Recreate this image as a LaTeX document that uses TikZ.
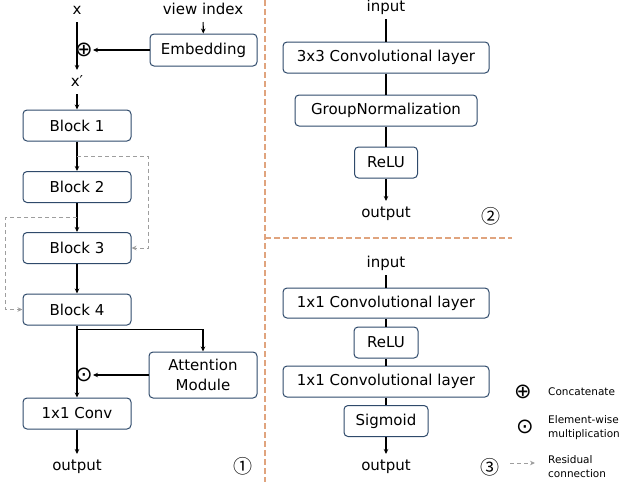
\documentclass[tikz,border=0pt]{standalone}
\usepackage{fontspec}
\setmainfont{DejaVu Sans}
\newfontfamily\cjkf{Noto Sans CJK SC}
\usetikzlibrary{arrows.meta,calc}
\definecolor{boxc}{HTML}{2F4A6B}
\definecolor{sepc}{HTML}{E0A47E}
\definecolor{resc}{HTML}{9E9E9E}
\tikzset{
 box/.style={draw=boxc, line width=1pt, rounded corners=4pt, fill=white, inner sep=0pt, font=\fontsize{15}{20}\selectfont, align=center},
 blk/.style={box, minimum width=108pt, minimum height=31pt},
 lbl/.style={inner sep=0pt, outer sep=5pt, text height=11pt, text depth=3pt, font=\fontsize{15}{18}\selectfont},
 arr/.style={line width=1.1pt, -{Stealth[length=5pt,width=4.5pt]}},
 ln/.style={line width=1.1pt},
 res/.style={draw=resc, line width=1pt, dash pattern=on 4pt off 3pt, -{Stealth[length=5pt,width=4.5pt]}},
 sym/.style={inner sep=0pt, font=\fontsize{21}{21}\selectfont},
 sepline/.style={draw=sepc, line width=1.4pt, dash pattern=on 6pt off 3pt},
 leg/.style={inner sep=0pt, anchor=west, align=left, font=\fontsize{10.5}{14}\selectfont},
 num/.style={inner sep=0pt, font=\cjkf\fontsize{19}{19}\selectfont},
}
\begin{document}
\begin{tikzpicture}[x=1pt,y=-1pt]
\useasboundingbox (0,0) rectangle (621,482);
% separators
\draw[sepline] (265,0) -- (265,482);
\draw[sepline] (265,238) -- (512,238);

% ---- panel 1 ----
\node[lbl] (x) at (77,10) {x};
\node[lbl] (vi) at (203,10) {view index};
\node[box, minimum width=107pt, minimum height=32pt] (emb) at (203.5,50) {Embedding};
\node[sym] (plus) at (84,50) {⊕};
\node[lbl] (xp) at (77,82) {x′};
\node[blk] (b1) at (77,125.5) {Block 1};
\node[blk] (b2) at (77,187) {Block 2};
\node[blk] (b3) at (77,248) {Block 3};
\node[blk] (b4) at (77,309.5) {Block 4};
\node[box, minimum width=108pt, minimum height=46pt] (att) at (203,375) {Attention\\Module};
\node[sym] (dot) at (84,375) {⊙};
\node[blk] (conv) at (77,413.5) {1x1 Conv};
\node[lbl] (out1) at (77,466) {output};
\node[num] (n1) at (243,466) {①};

\draw[arr] (x) -- (xp);
\draw[arr] (vi) -- (emb);
\draw[arr] (emb) -- (plus);
\draw[arr] (xp) -- (b1);
\draw[arr] (b1) -- (b2);
\draw[arr] (b2) -- (b3);
\draw[arr] (b3) -- (b4);
\coordinate (m1) at ($(b1.south)!0.5!(b2.north)$);
\coordinate (m2) at ($(b2.south)!0.5!(b3.north)$);
\draw[res] (m1) -| ($(b3.east)+(17,0)$) -- (b3.east);
\draw[res] (m2) -| ($(b4.west)+(-17,0)$) -- (b4.west);
\coordinate (split) at ($(b4.south)+(0,4)$);
\draw[arr] (split) -| (att.north);
\draw[arr] (b4) -- (conv);
\draw[arr] (att) -- (dot);
\draw[arr] (conv) -- (out1);

% ---- panel 2 ----
\node[lbl] (in2) at (386,7) {input};
\node[box, minimum width=206pt, minimum height=31pt] (c33) at (386,57.5) {3x3 Convolutional layer};
\node[box, minimum width=182pt, minimum height=31pt] (gn) at (386,110.5) {GroupNormalization};
\node[box, minimum width=63pt, minimum height=31pt] (relu2) at (386,162.5) {ReLU};
\node[lbl] (out2) at (386,213) {output};
\node[num] (n2) at (491,216) {②};
\draw[ln] (in2) -- (c33);
\draw[ln] (c33) -- (gn);
\draw[ln] (gn) -- (relu2);
\draw[arr] (relu2) -- (out2);

% ---- panel 3 ----
\node[lbl] (in3) at (386,263) {input};
\node[box, minimum width=206pt, minimum height=30pt] (ca) at (386,303) {1x1 Convolutional layer};
\node[box, minimum width=64pt, minimum height=31pt] (relu3) at (386,342.5) {ReLU};
\node[box, minimum width=206pt, minimum height=31pt] (cb) at (386,381.5) {1x1 Convolutional layer};
\node[box, minimum width=84pt, minimum height=31pt] (sig) at (386,421) {Sigmoid};
\node[lbl] (out3) at (386,466) {output};
\node[num] (n3) at (490,467) {③};
\draw[ln] (in3) -- (ca);
\draw[ln] (ca) -- (relu3);
\draw[ln] (relu3) -- (cb);
\draw[ln] (cb) -- (sig);
\draw[arr] (sig) -- (out3);

% ---- legend ----
\node[sym] (lplus) at (523,392) {⊕};
\node[leg] (lconc) at (548,392) {Concatenate};
\node[sym] (ldot) at (525,427) {⊙};
\node[leg] (lmul) at (548,428) {Element-wise\\multiplication};
\coordinate (la) at (510,463);
\coordinate (lb) at (535,463);
\draw[res] (la) -- (lb);
\node[leg] (lres) at (548,467) {Residual\\connection};
\end{tikzpicture}
\end{document}
